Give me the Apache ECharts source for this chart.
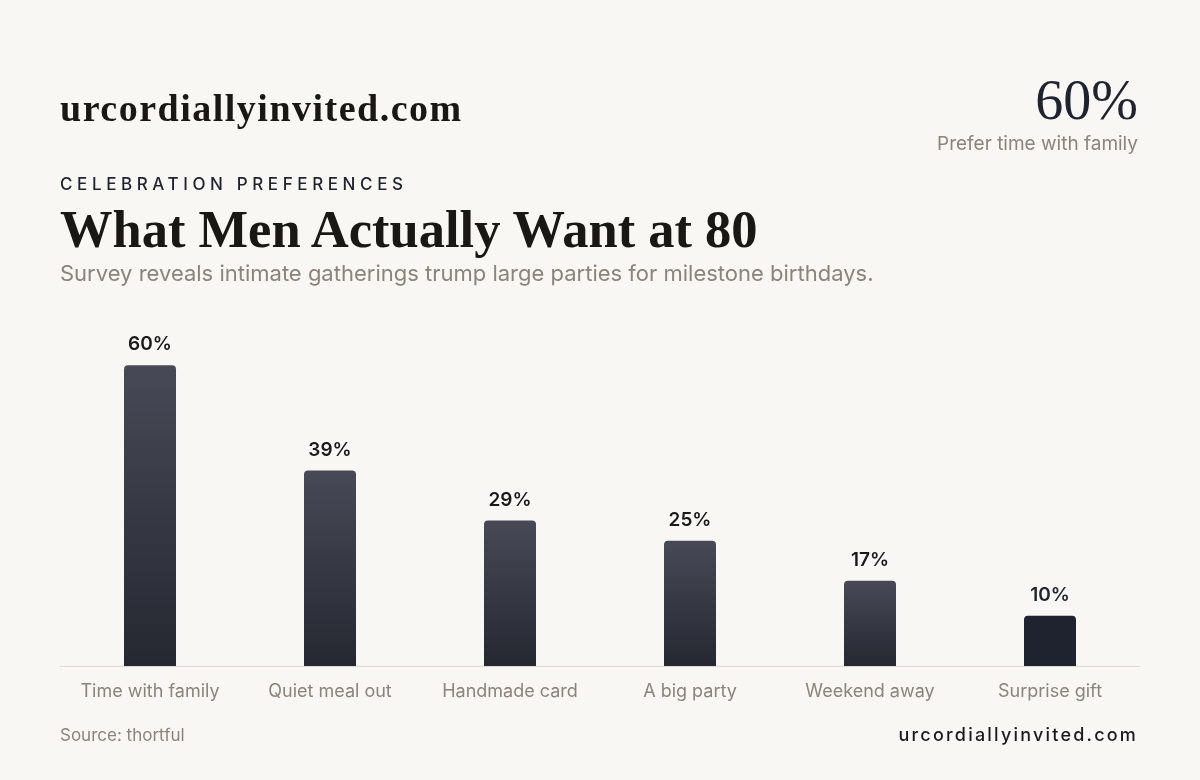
<!DOCTYPE html>
<html>
<head>
<meta charset="utf-8">
<script src="https://cdn.jsdelivr.net/npm/echarts@6/dist/echarts.min.js"></script>
<style>
  html, body { margin: 0; padding: 0; background: #f9f7f3; }
  #wrap { position: relative; width: 1200px; height: 780px; overflow: hidden; }
  #chart { position: absolute; left: 0; top: 0; width: 1200px; height: 780px; }
  .t { position: absolute; white-space: nowrap; line-height: 1; }
  .serif { font-family: "Liberation Serif", "DejaVu Serif", serif; font-weight: 700; }
  .sans { font-family: Inter, "Noto Sans", sans-serif; }
</style>
</head>
<body>
<div id="wrap">
  <div id="chart"></div>
  <div class="t serif" style="left:60px; top:89px; font-size:38px; letter-spacing:1.5px; color:#1a1814;">urcordiallyinvited.com</div>
  <div class="t serif" style="right:62px; top:72px; font-size:56px; font-weight:400; color:#1f2330;">60%</div>
  <div class="t sans" style="right:62px; top:134px; font-size:19px; color:#8c837b;">Prefer time with family</div>
  <div class="t sans" style="left:60px; top:176px; font-size:17px; font-weight:500; letter-spacing:4.6px; color:#1f2330;">CELEBRATION PREFERENCES</div>
  <div class="t serif" style="left:60px; top:203px; font-size:52.5px; color:#1a1814;">What Men Actually Want at 80</div>
  <div class="t sans" style="left:60px; top:262px; font-size:22px; color:#8c837b;">Survey reveals intimate gatherings trump large parties for milestone birthdays.</div>
  <div class="t sans" style="left:60px; top:727px; font-size:17px; color:#8c837b;">Source: thortful</div>
  <div class="t sans" style="right:62px; top:726px; font-size:18px; font-weight:500; letter-spacing:2.2px; color:#1a1a1a;">urcordiallyinvited.com</div>
</div>
<script>
(() => {
    // 数据
    let categories = ["Time with family", "Quiet meal out", "Handmade card", "A big party", "Weekend away", "Surprise gift"];
    let values = [60, 39, 29, 25, 17, 10];

    let chart = echarts.init(document.getElementById("chart"), null, { renderer: "canvas" });

    let barGradient = new echarts.graphic.LinearGradient(0, 0, 0, 1, [
        { offset: 0, color: "#474a56" },
        { offset: 1, color: "#252831" }
    ]);

    let seriesData = [];
    for (let i = 0; i < values.length; i++) {
        let last = i === values.length - 1;
        seriesData.push({
            value: values[i],
            itemStyle: { color: last ? "#1f2330" : barGradient },
            label: { color: last ? "#1f2330" : "#1a1a1a" }
        });
    }

    chart.setOption({
        backgroundColor: "transparent",
        animation: false,
        grid: { left: 60, right: 60, top: 315, bottom: 114 },
        xAxis: {
            type: "category",
            data: categories,
            axisLine: { lineStyle: { color: "#dedad3", width: 1 } },
            axisTick: { show: false },
            axisLabel: {
                interval: 0,
                color: "#8c837b",
                fontFamily: "Inter",
                fontSize: 18,
                margin: 17
            }
        },
        yAxis: {
            type: "value",
            min: 0,
            max: 70,
            show: false,
            splitLine: { show: false }
        },
        series: [{
            type: "bar",
            data: seriesData,
            barWidth: 52,
            itemStyle: { borderRadius: [4, 4, 0, 0] },
            label: {
                show: true,
                position: "top",
                distance: 11,
                formatter: "{c}%",
                fontFamily: "Inter",
                fontSize: 19,
                fontWeight: 600
            }
        }]
    });
})();
</script>
</body>
</html>
